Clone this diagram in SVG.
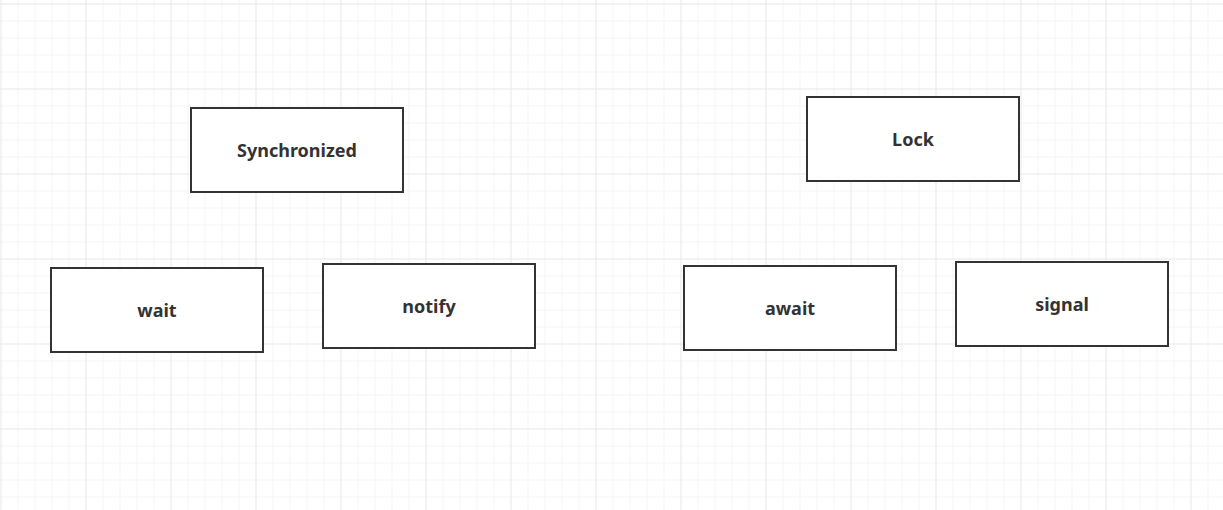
<svg xmlns="http://www.w3.org/2000/svg" width="1223" height="510" viewBox="0 0 1223 510">
<style>
.box{fill:#ffffff;stroke:#333333;stroke-width:2}
.lbl{font-family:"Noto Sans","Open Sans","Liberation Sans",sans-serif;font-weight:bold;font-size:18px;fill:#333333;text-anchor:middle;dominant-baseline:central}
</style>
<defs>
<pattern id="minor" x="0.5" y="3.5" width="17" height="17" patternUnits="userSpaceOnUse">
<path d="M0 0H17M0 0V17" fill="none" stroke="#ebebeb" stroke-width="1"/>
</pattern>
<pattern id="major" x="85.5" y="88.5" width="85" height="85" patternUnits="userSpaceOnUse">
<path d="M0 0H85M0 0V85" fill="none" stroke="#e0e0e0" stroke-width="1"/>
</pattern>
</defs>
<rect width="1223" height="510" fill="#ffffff"/>
<rect width="1223" height="510" fill="url(#minor)"/>
<rect width="1223" height="510" fill="url(#major)"/>
<g id="connectors"></g>
<g id="synchronized"><rect class="box" x="191" y="108" width="212" height="84"/><text class="lbl" x="297" y="150">Synchronized</text></g>
<g id="wait"><rect class="box" x="51" y="268" width="212" height="84"/><text class="lbl" x="157" y="310">wait</text></g>
<g id="notify"><rect class="box" x="323" y="264" width="212" height="84"/><text class="lbl" x="429" y="306">notify</text></g>
<g id="lock"><rect class="box" x="807" y="97" width="212" height="84"/><text class="lbl" x="913" y="139">Lock</text></g>
<g id="await"><rect class="box" x="684" y="266" width="212" height="84"/><text class="lbl" x="790" y="308">await</text></g>
<g id="signal"><rect class="box" x="956" y="262" width="212" height="84"/><text class="lbl" x="1062" y="304">signal</text></g>
</svg>
